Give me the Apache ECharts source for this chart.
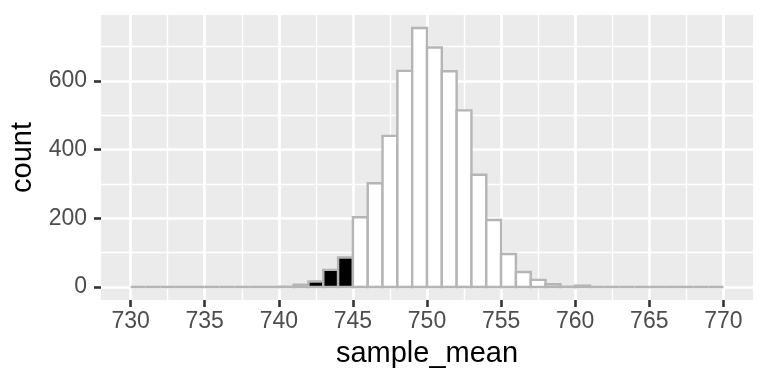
<!DOCTYPE html>
<html>
<head>
<meta charset="utf-8">
<script src="https://cdn.jsdelivr.net/npm/echarts@6/dist/echarts.min.js"></script>
<style>
  html, body { margin: 0; padding: 0; background: #ffffff; }
  #chart { width: 768px; height: 384px; }
</style>
</head>
<body>
<div id="chart"></div>
<script>
// ---- data ----
const binLeft  = [730,731,732,733,734,735,736,737,738,739,740,741,742,743,744,745,746,747,748,749,
                  750,751,752,753,754,755,756,757,758,759,760,761,762,763,764,765,766,767,768,769];
const binRight = [731,732,733,734,735,736,737,738,739,740,741,742,743,744,745,746,747,748,749,750,
                  751,752,753,754,755,756,757,758,759,760,761,762,763,764,765,766,767,768,769,770];
const counts   = [0,0,0,0,0,0,0,0,0,0,1,7,16,50,86,203,302,440,629,754,
                  697,628,514,327,195,96,44,21,8,1,4,0,0,0,0,0,0,0,0,0];
const shadeBelow = 745;             // bins left of this value are shaded
const xTicks = [730,735,740,745,750,755,760,765,770];
const xMinor = [732.5,737.5,742.5,747.5,752.5,757.5,762.5,767.5];
const yTicks = [0,200,400,600];
const yMinor = [100,300,500,700];
const xLimits = [728, 772];
const yLimits = [-37.7, 791.7];

const FONT = "'Liberation Sans', Arial, Helvetica, sans-serif";
const chart = echarts.init(document.getElementById('chart'), null, {renderer: 'canvas'});

const histData = binLeft.map((l, i) => [l, binRight[i], counts[i], l < shadeBelow ? 1 : 0]);

const option = {
  animation: false,
  backgroundColor: '#ffffff',
  textStyle: { fontFamily: FONT },
  grid: {
    left: 101, right: 15, top: 15, bottom: 84,
    show: true, backgroundColor: '#EBEBEB', borderWidth: 0
  },
  xAxis: [
    {
      type: 'value', min: xLimits[0], max: xLimits[1], position: 'bottom',
      axisLine: { show: false, onZero: false },
      axisTick: { show: true, length: 7, customValues: xTicks,
                  lineStyle: { color: '#333333', width: 2.6 } },
      axisLabel: { show: true, customValues: xTicks, margin: 10,
                   color: '#4D4D4D', fontSize: 23, fontFamily: FONT },
      splitLine: { show: true, lineStyle: { color: '#ffffff', width: 2.7 } },
      name: 'sample_mean', nameLocation: 'middle', nameGap: 39,
      nameTextStyle: { color: '#000000', fontSize: 29, fontFamily: FONT }
    },
    {
      type: 'value', min: xLimits[0], max: xLimits[1], position: 'bottom',
      axisLine: { show: false, onZero: false },
      axisTick: { show: false, customValues: xMinor },
      axisLabel: { show: false },
      splitLine: { show: true, lineStyle: { color: '#ffffff', width: 1.4 } }
    }
  ],
  yAxis: [
    {
      type: 'value', min: yLimits[0], max: yLimits[1], position: 'left',
      axisLine: { show: false, onZero: false },
      axisTick: { show: true, length: 7, customValues: yTicks,
                  lineStyle: { color: '#333333', width: 2.6 } },
      axisLabel: { show: true, customValues: yTicks, margin: 14,
                   color: '#4D4D4D', fontSize: 23, fontFamily: FONT },
      splitLine: { show: true, lineStyle: { color: '#ffffff', width: 2.7 } },
      name: 'count', nameLocation: 'middle', nameGap: 50,
      nameTextStyle: { color: '#000000', fontSize: 29, fontFamily: FONT }
    },
    {
      type: 'value', min: yLimits[0], max: yLimits[1], position: 'left',
      axisLine: { show: false, onZero: false },
      axisTick: { show: false, customValues: yMinor },
      axisLabel: { show: false },
      splitLine: { show: true, lineStyle: { color: '#ffffff', width: 1.4 } }
    }
  ],
  series: [{
    type: 'custom',
    xAxisIndex: 0, yAxisIndex: 0,
    encode: { x: [0, 1], y: 2 },
    data: histData,
    renderItem: function (params, api) {
      const x0 = api.value(0), x1 = api.value(1), c = api.value(2), sh = api.value(3);
      const pTop = api.coord([x0, c]);
      const pBot = api.coord([x1, 0]);
      return {
        type: 'rect',
        shape: { x: pTop[0], y: pTop[1], width: pBot[0] - pTop[0], height: pBot[1] - pTop[1] },
        style: { fill: sh ? '#000000' : '#ffffff', stroke: '#B5B5B5', lineWidth: 2.4 }
      };
    }
  }]
};
chart.setOption(option);
</script>
</body>
</html>
